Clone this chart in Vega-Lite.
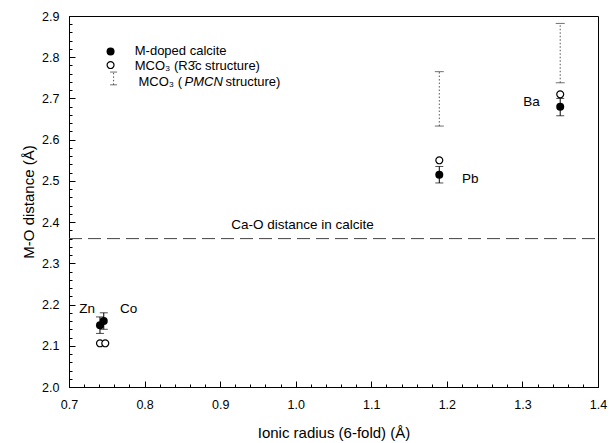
{
  "$schema": "https://vega.github.io/schema/vega-lite/v6.json",
  "width": 529,
  "height": 371,
  "autosize": {"type": "none"},
  "padding": {"left": 69, "top": 16, "right": 11, "bottom": 56},
  "background": "white",
  "config": {
    "font": "Liberation Sans",
    "view": {"stroke": "black", "strokeWidth": 1},
    "axis": {
      "domainColor": "black",
      "tickColor": "black",
      "labelColor": "black",
      "titleColor": "black",
      "labelFontSize": 12.5,
      "titleFontSize": 15,
      "titleFontWeight": "normal",
      "grid": false,
      "ticks": true,
      "tickWidth": 1,
      "zindex": 1,
      "labelOverlap": false,
      "labelFlush": false
    }
  },
  "datasets": {
    "doped": [
      {"m": "Zn", "x": 0.741, "y": 2.15, "lo": 2.13, "hi": 2.17},
      {"m": "Co", "x": 0.746, "y": 2.16, "lo": 2.14, "hi": 2.18},
      {"m": "Pb", "x": 1.19, "y": 2.515, "lo": 2.495, "hi": 2.535},
      {"m": "Ba", "x": 1.35, "y": 2.68, "lo": 2.658, "hi": 2.70}
    ],
    "r3c": [
      {"m": "Zn", "x": 0.741, "y": 2.106},
      {"m": "Co", "x": 0.748, "y": 2.106},
      {"m": "Pb", "x": 1.19, "y": 2.55},
      {"m": "Ba", "x": 1.35, "y": 2.71}
    ],
    "pmcn": [
      {"m": "Pb", "x": 1.19, "lo": 2.633, "hi": 2.765},
      {"m": "Ba", "x": 1.35, "lo": 2.738, "hi": 2.882}
    ],
    "labels": [
      {"text": "Zn", "x": 0.724, "y": 2.19},
      {"text": "Co", "x": 0.779, "y": 2.19},
      {"text": "Pb", "x": 1.231, "y": 2.504},
      {"text": "Ba", "x": 1.312, "y": 2.692},
      {"text": "Ca-O distance in calcite", "x": 1.009, "y": 2.393}
    ],
    "refline": [
      {"x": 0.7, "x2": 1.4, "y": 2.36}
    ],
    "legendFilled": [{"x": 0.755, "y": 2.814}],
    "legendOpen": [{"x": 0.755, "y": 2.781}],
    "legendBar": [{"x": 0.759, "lo": 2.733, "hi": 2.764}],
    "legendText": [
      {"x": 0.787, "y": 2.815, "text": "M-doped calcite"},
      {"x": 0.787, "y": 2.778, "text": "MCO₃ (R3̄c structure)"},
      {"x": 0.792, "y": 2.741, "text": "MCO₃ ("}
    ],
    "legendItalic": [{"x": 0.792, "y": 2.741, "text": "PMCN"}],
    "legendTail": [{"x": 0.792, "y": 2.741, "text": "structure)"}]
  },
  "encoding": {
    "x": {
      "field": "x",
      "type": "quantitative",
      "scale": {"domain": [0.7, 1.4], "nice": false, "zero": false},
      "axis": {
        "title": "Ionic radius (6-fold) (Å)",
        "values": [0.7, 0.72, 0.74, 0.76, 0.78, 0.8, 0.82, 0.84, 0.86, 0.88, 0.9, 0.92, 0.94, 0.96, 0.98, 1.0, 1.02, 1.04, 1.06, 1.08, 1.1, 1.12, 1.14, 1.16, 1.18, 1.2, 1.22, 1.24, 1.26, 1.28, 1.3, 1.32, 1.34, 1.36, 1.38, 1.4],
        "labelExpr": "abs(datum.value*10 - round(datum.value*10)) < 0.001 ? format(datum.value, '.1f') : ''",
        "tickSize": {"condition": {"test": "abs(datum.value*10 - round(datum.value*10)) < 0.001", "value": -6}, "value": -3},
        "labelPadding": 17,
        "titlePadding": 12
      }
    },
    "y": {
      "field": "y",
      "type": "quantitative",
      "scale": {"domain": [2.0, 2.9], "nice": false, "zero": false},
      "axis": {
        "title": "M-O distance (Å)",
        "values": [2.0, 2.02, 2.04, 2.06, 2.08, 2.1, 2.12, 2.14, 2.16, 2.18, 2.2, 2.22, 2.24, 2.26, 2.28, 2.3, 2.32, 2.34, 2.36, 2.38, 2.4, 2.42, 2.44, 2.46, 2.48, 2.5, 2.52, 2.54, 2.56, 2.58, 2.6, 2.62, 2.64, 2.66, 2.68, 2.7, 2.72, 2.74, 2.76, 2.78, 2.8, 2.82, 2.84, 2.86, 2.88, 2.9],
        "labelExpr": "abs(datum.value*10 - round(datum.value*10)) < 0.001 ? format(datum.value, '.1f') : ''",
        "tickSize": {"condition": {"test": "abs(datum.value*10 - round(datum.value*10)) < 0.001", "value": -6}, "value": -3},
        "labelPadding": 16,
        "titlePadding": 5
      }
    }
  },
  "layer": [
    {
      "data": {"name": "refline"},
      "mark": {"type": "rule", "color": "#444", "strokeWidth": 1, "strokeDash": [13, 6]},
      "encoding": {"x2": {"field": "x2"}}
    },
    {
      "data": {"name": "pmcn"},
      "mark": {"type": "rule", "color": "#555", "strokeWidth": 1, "strokeDash": [1.5, 2]},
      "encoding": {"y": {"field": "lo", "type": "quantitative"}, "y2": {"field": "hi"}}
    },
    {
      "data": {"name": "pmcn"},
      "transform": [{"fold": ["lo", "hi"], "as": ["end", "yv"]}],
      "mark": {"type": "tick", "orient": "horizontal", "color": "#333", "size": 9, "thickness": 1},
      "encoding": {"y": {"field": "yv", "type": "quantitative"}}
    },
    {
      "data": {"name": "doped"},
      "mark": {"type": "rule", "color": "black", "strokeWidth": 1},
      "encoding": {"y": {"field": "lo", "type": "quantitative"}, "y2": {"field": "hi"}}
    },
    {
      "data": {"name": "doped"},
      "transform": [{"fold": ["lo", "hi"], "as": ["end", "yv"]}],
      "mark": {"type": "tick", "orient": "horizontal", "color": "black", "size": 8, "thickness": 1},
      "encoding": {"y": {"field": "yv", "type": "quantitative"}}
    },
    {
      "data": {"name": "r3c"},
      "mark": {"type": "point", "shape": "circle", "filled": false, "fill": "white", "fillOpacity": 1, "stroke": "black", "strokeWidth": 1.2, "opacity": 1, "size": 48}
    },
    {
      "data": {"name": "doped"},
      "mark": {"type": "point", "shape": "circle", "filled": true, "color": "black", "opacity": 1, "size": 64}
    },
    {
      "data": {"name": "labels"},
      "mark": {"type": "text", "fontSize": 13.5, "color": "black", "align": "center", "baseline": "middle"},
      "encoding": {"text": {"field": "text"}}
    },
    {
      "data": {"name": "legendBar"},
      "mark": {"type": "rule", "color": "#555", "strokeWidth": 1, "strokeDash": [1.5, 2]},
      "encoding": {"y": {"field": "lo", "type": "quantitative"}, "y2": {"field": "hi"}}
    },
    {
      "data": {"name": "legendBar"},
      "transform": [{"fold": ["lo", "hi"], "as": ["end", "yv"]}],
      "mark": {"type": "tick", "orient": "horizontal", "color": "#333", "size": 7, "thickness": 1},
      "encoding": {"y": {"field": "yv", "type": "quantitative"}}
    },
    {
      "data": {"name": "legendOpen"},
      "mark": {"type": "point", "shape": "circle", "filled": false, "fill": "white", "fillOpacity": 1, "stroke": "black", "strokeWidth": 1.2, "opacity": 1, "size": 48}
    },
    {
      "data": {"name": "legendFilled"},
      "mark": {"type": "point", "shape": "circle", "filled": true, "color": "black", "opacity": 1, "size": 64}
    },
    {
      "data": {"name": "legendText"},
      "mark": {"type": "text", "fontSize": 13, "color": "black", "align": "left", "baseline": "middle"},
      "encoding": {"text": {"field": "text"}}
    },
    {
      "data": {"name": "legendItalic"},
      "mark": {"type": "text", "fontSize": 13, "fontStyle": "italic", "color": "black", "align": "left", "baseline": "middle", "dx": 46},
      "encoding": {"text": {"field": "text"}}
    },
    {
      "data": {"name": "legendTail"},
      "mark": {"type": "text", "fontSize": 13, "color": "black", "align": "left", "baseline": "middle", "dx": 87},
      "encoding": {"text": {"field": "text"}}
    }
  ]
}
